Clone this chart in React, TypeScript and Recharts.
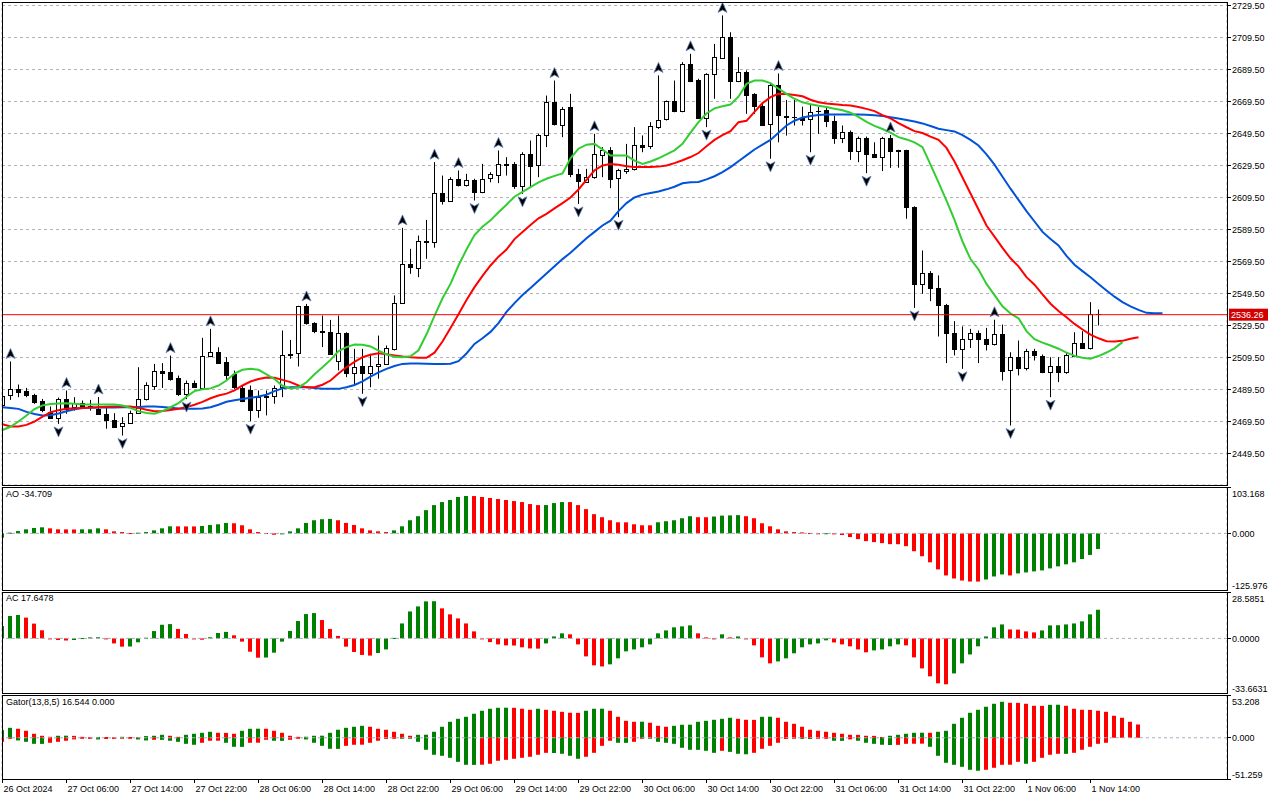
import React from 'react';
import {Bar, CartesianGrid, Cell, ComposedChart, Line, ReferenceLine, Scatter, XAxis, YAxis} from 'recharts';

// ETHUSD H1, one entry per bar: 26 Oct 22:00 .. 1 Nov 15:00
const opens = [
  2480.0, 2486.1, 2489.9, 2488.4, 2486.1, 2482.2, 2475.7, 2471.8, 2483.7, 2478.4,
  2481.1, 2479.5, 2477.6, 2474.3, 2470.5, 2467.0, 2468.7, 2474.9, 2483.7, 2492.0,
  2501.3, 2500.7, 2496.8, 2486.8, 2493.7, 2490.5, 2510.7, 2513.2, 2506.9, 2498.9,
  2490.5, 2488.9, 2476.3, 2484.7, 2485.7, 2490.9, 2511.1, 2511.8, 2541.4, 2530.9,
  2525.9, 2525.7, 2507.6, 2524.9, 2499.7, 2503.9, 2499.7, 2504.1, 2505.6, 2514.9,
  2543.6, 2568.0, 2565.9, 2582.6, 2581.6, 2612.4, 2607.6, 2621.2, 2617.4, 2620.5,
  2612.8, 2621.2, 2623.7, 2630.5, 2630.5, 2617.0, 2636.8, 2629.5, 2648.3, 2669.0,
  2655.1, 2665.9, 2623.9, 2619.7, 2622.2, 2636.4, 2639.3, 2621.2, 2626.0, 2627.4,
  2642.6, 2641.4, 2653.9, 2658.2, 2669.7, 2663.5, 2693.0, 2683.2, 2659.3, 2686.8,
  2697.2, 2710.1, 2682.6, 2688.2, 2674.3, 2667.0, 2655.1, 2679.5, 2660.3, 2659.8,
  2659.0, 2658.7, 2663.5, 2664.3, 2657.6, 2646.8, 2650.7, 2638.9, 2646.8, 2636.8,
  2634.7, 2646.6, 2638.5, 2638.9, 2603.4, 2555.5, 2562.4, 2553.0, 2542.6, 2524.9,
  2514.9, 2521.2, 2524.9, 2521.2, 2518.0, 2524.3, 2501.4, 2509.7, 2503.0, 2513.5,
  2510.3, 2500.3, 2503.9, 2500.3, 2510.8, 2518.7, 2515.5, 2536.5,
];
const highs = [
  2487.0, 2507.0, 2492.6, 2490.5, 2486.8, 2483.6, 2478.9, 2484.5, 2488.9, 2484.7,
  2482.6, 2483.0, 2484.8, 2478.4, 2474.7, 2472.2, 2476.3, 2503.4, 2494.0, 2505.5,
  2506.0, 2510.7, 2498.2, 2495.1, 2495.1, 2521.8, 2527.4, 2515.9, 2509.7, 2501.3,
  2492.0, 2492.0, 2488.9, 2488.9, 2492.0, 2526.4, 2520.5, 2541.8, 2543.0, 2531.6,
  2535.7, 2533.0, 2535.7, 2525.3, 2514.9, 2514.9, 2511.8, 2523.2, 2517.0, 2548.3,
  2590.5, 2577.4, 2585.7, 2595.5, 2631.6, 2623.2, 2622.2, 2626.4, 2624.3, 2621.2,
  2630.5, 2625.3, 2638.9, 2634.7, 2631.6, 2637.8, 2645.1, 2649.3, 2673.2, 2682.6,
  2666.0, 2674.3, 2627.4, 2627.4, 2649.3, 2641.0, 2641.0, 2627.4, 2643.0, 2653.5,
  2648.3, 2656.6, 2685.8, 2670.1, 2682.6, 2694.1, 2699.3, 2683.7, 2687.2, 2705.5,
  2723.3, 2712.8, 2697.2, 2688.9, 2674.7, 2668.0, 2680.5, 2687.0, 2670.5, 2670.5,
  2666.3, 2668.0, 2666.0, 2666.0, 2660.7, 2654.5, 2651.4, 2647.6, 2647.6, 2644.0,
  2647.4, 2648.6, 2639.3, 2639.3, 2604.0, 2576.4, 2563.5, 2560.8, 2543.0, 2532.2,
  2528.9, 2527.4, 2526.4, 2528.0, 2533.1, 2530.1, 2512.8, 2520.1, 2514.9, 2514.9,
  2511.4, 2509.7, 2509.7, 2512.8, 2525.3, 2525.9, 2544.1, 2539.5,
];
const lows = [
  2479.0, 2483.0, 2484.7, 2484.7, 2480.5, 2475.3, 2471.1, 2468.0, 2474.3, 2476.3,
  2477.4, 2476.3, 2474.2, 2465.0, 2465.5, 2460.7, 2468.0, 2474.3, 2482.6, 2489.3,
  2490.5, 2495.0, 2485.5, 2483.5, 2490.5, 2489.9, 2509.7, 2505.5, 2495.1, 2489.9,
  2481.6, 2469.7, 2471.8, 2473.3, 2480.6, 2484.7, 2508.7, 2503.9, 2530.0, 2524.7,
  2516.0, 2511.8, 2501.4, 2497.2, 2492.0, 2486.8, 2490.9, 2496.2, 2505.1, 2513.9,
  2543.0, 2561.8, 2559.7, 2571.2, 2578.1, 2605.1, 2607.2, 2616.4, 2616.4, 2607.6,
  2612.2, 2619.0, 2618.5, 2623.2, 2614.9, 2611.8, 2616.0, 2622.2, 2641.0, 2654.5,
  2647.2, 2622.2, 2605.5, 2619.1, 2621.2, 2622.2, 2615.3, 2597.2, 2624.3, 2626.4,
  2637.8, 2639.9, 2652.4, 2657.6, 2662.8, 2662.8, 2681.6, 2658.7, 2653.5, 2671.2,
  2697.0, 2671.2, 2681.6, 2661.8, 2661.8, 2655.0, 2633.7, 2644.0, 2648.2, 2654.5,
  2654.5, 2637.8, 2649.3, 2653.5, 2643.0, 2643.5, 2633.0, 2631.6, 2624.7, 2634.7,
  2626.0, 2628.0, 2628.1, 2596.2, 2540.5, 2549.3, 2544.7, 2522.6, 2506.0, 2510.8,
  2502.4, 2515.5, 2506.0, 2513.9, 2517.0, 2495.1, 2467.0, 2498.3, 2501.4, 2507.6,
  2499.7, 2484.7, 2494.1, 2499.3, 2509.7, 2514.9, 2514.5, 2529.5,
];
const closes = [
  2485.7, 2489.9, 2487.8, 2486.1, 2481.6, 2476.3, 2471.8, 2483.7, 2477.4, 2481.1,
  2478.9, 2479.0, 2474.3, 2470.5, 2466.4, 2468.7, 2474.9, 2483.7, 2492.6, 2501.3,
  2500.3, 2496.6, 2486.8, 2493.7, 2491.0, 2510.7, 2513.2, 2506.1, 2498.9, 2490.5,
  2482.6, 2476.3, 2484.7, 2485.3, 2490.7, 2511.1, 2511.8, 2541.4, 2530.5, 2525.9,
  2525.0, 2512.2, 2524.9, 2499.7, 2503.4, 2499.7, 2504.3, 2505.6, 2515.5, 2543.6,
  2568.0, 2566.0, 2582.6, 2582.0, 2612.4, 2607.6, 2621.2, 2617.4, 2620.5, 2612.8,
  2621.2, 2623.9, 2630.5, 2630.0, 2617.0, 2636.8, 2629.5, 2648.3, 2669.0, 2655.1,
  2664.9, 2623.9, 2619.7, 2622.6, 2636.4, 2639.3, 2621.2, 2626.4, 2627.4, 2642.6,
  2641.4, 2653.9, 2658.2, 2669.7, 2663.5, 2693.0, 2682.6, 2659.3, 2686.8, 2697.2,
  2710.1, 2682.6, 2688.2, 2673.9, 2667.0, 2655.1, 2679.5, 2660.7, 2659.8, 2659.5,
  2658.0, 2662.8, 2663.2, 2657.6, 2646.8, 2650.7, 2638.9, 2646.8, 2636.8, 2634.9,
  2646.6, 2638.5, 2638.9, 2603.0, 2555.5, 2562.4, 2553.0, 2542.6, 2524.9, 2514.9,
  2521.2, 2524.9, 2521.2, 2518.0, 2524.3, 2501.4, 2509.7, 2503.0, 2513.5, 2510.8,
  2500.3, 2503.9, 2500.3, 2510.8, 2518.7, 2515.5, 2536.8, 2536.26,
];

// Alligator lines (already shifted forward, so they run past the last bar)
const jaw = [
  2478.4, 2478.0, 2477.4, 2475.5, 2474.2, 2473.3, 2473.4, 2474.5, 2475.9, 2477.1,
  2477.9, 2478.1, 2478.2, 2478.3, 2478.3, 2478.4, 2478.4, 2478.6, 2478.8, 2478.9,
  2478.6, 2478.1, 2477.7, 2477.4, 2477.4, 2477.6, 2478.4, 2480.0, 2481.8, 2482.8,
  2483.6, 2484.3, 2485.1, 2486.2, 2488.5, 2490.2, 2490.9, 2490.9, 2490.9, 2490.5,
  2489.9, 2489.9, 2489.9, 2490.9, 2492.3, 2494.6, 2497.6, 2500.2, 2502.4, 2504.2,
  2505.5, 2505.8, 2505.8, 2505.6, 2505.5, 2505.5, 2505.6, 2507.2, 2512.0, 2518.0,
  2521.5, 2525.5, 2531.0, 2538.0, 2543.5, 2548.5, 2553.0, 2557.5, 2562.0, 2566.5,
  2571.0, 2575.0, 2579.5, 2584.0, 2588.0, 2592.0, 2595.0, 2601.0, 2606.0, 2609.5,
  2611.3, 2612.3, 2613.3, 2614.6, 2616.2, 2618.4, 2619.1, 2619.2, 2620.8, 2622.8,
  2625.4, 2628.5, 2632.2, 2635.8, 2639.5, 2642.5, 2645.5, 2650.0, 2654.5, 2657.5,
  2659.5, 2660.5, 2661.1, 2661.4, 2661.4, 2661.4, 2661.4, 2661.4, 2661.2, 2660.9,
  2660.4, 2659.7, 2658.9, 2658.0, 2657.0, 2655.8, 2654.2, 2652.5, 2651.6, 2650.8,
  2648.5, 2645.5, 2642.0, 2636.5, 2630.0, 2622.5, 2615.0, 2608.0, 2601.0, 2594.5,
  2588.0, 2583.5, 2579.5, 2573.0, 2567.5, 2563.5, 2559.7, 2555.5, 2551.4, 2547.5,
  2544.1, 2541.5, 2539.3, 2537.4, 2537.2, 2537.2,
];
const teeth = [
  2467.8, 2466.4, 2466.4, 2467.4, 2469.5, 2472.5, 2475.3, 2476.6, 2477.4, 2477.8,
  2478.0, 2478.2, 2478.4, 2478.7, 2478.9, 2478.9, 2478.9, 2478.0, 2476.8, 2475.9,
  2476.1, 2476.7, 2477.4, 2478.5, 2480.0, 2481.8, 2484.0, 2485.7, 2486.9, 2489.0,
  2492.0, 2494.5, 2496.1, 2497.0, 2496.8, 2495.5, 2494.1, 2492.0, 2490.9, 2490.9,
  2492.5, 2495.1, 2499.5, 2503.4, 2506.8, 2509.7, 2511.2, 2512.2, 2511.6, 2510.8,
  2510.1, 2509.6, 2509.4, 2509.3, 2512.5, 2519.5, 2528.0, 2536.5, 2545.5, 2553.5,
  2560.5, 2567.0, 2572.5, 2577.0, 2583.5, 2588.0, 2592.3, 2596.5, 2599.3, 2602.7,
  2606.0, 2609.5, 2614.5, 2620.5, 2626.5, 2629.5, 2630.5, 2630.0, 2629.0, 2628.5,
  2628.5, 2628.5, 2628.8, 2629.5, 2631.0, 2632.8, 2634.8, 2637.3, 2641.5, 2645.5,
  2648.5, 2651.0, 2656.6, 2657.4, 2663.0, 2668.5, 2672.2, 2674.3, 2674.2, 2673.6,
  2672.8, 2670.6, 2669.0, 2668.3, 2667.8, 2667.3, 2667.0, 2666.0, 2664.9, 2663.5,
  2661.0, 2659.0, 2656.0, 2653.4, 2651.0, 2649.8, 2647.5, 2645.5, 2640.5, 2632.0,
  2622.0, 2612.0, 2602.0, 2592.0, 2585.0, 2578.0, 2571.5, 2566.5, 2559.7, 2555.0,
  2549.0, 2543.1, 2538.5, 2534.7, 2530.5, 2527.0, 2523.8, 2521.5, 2519.7, 2519.5,
  2519.9, 2521.2, 2522.2,
];
const lips = [
  2464.2, 2466.2, 2469.5, 2473.2, 2477.3, 2479.6, 2480.5, 2480.8, 2480.9, 2480.6,
  2480.1, 2480.1, 2480.1, 2480.1, 2480.1, 2479.5, 2478.0, 2476.0, 2474.8, 2474.3,
  2476.0, 2478.4, 2481.0, 2485.0, 2488.5, 2489.7, 2490.2, 2492.0, 2495.1, 2499.5,
  2501.8, 2502.4, 2501.8, 2499.0, 2496.0, 2491.8, 2490.2, 2490.8, 2494.0, 2499.0,
  2503.4, 2508.0, 2513.5, 2516.0, 2517.6, 2517.5, 2516.4, 2513.8, 2511.5, 2509.9,
  2509.7, 2510.3, 2514.0, 2524.0, 2535.5, 2546.5, 2555.5, 2567.0, 2577.0, 2586.0,
  2591.2, 2595.2, 2600.3, 2605.0, 2610.0, 2613.0, 2616.0, 2619.0, 2621.2, 2623.0,
  2624.5, 2634.0, 2640.0, 2642.5, 2643.0, 2639.5, 2635.7, 2635.7, 2635.7, 2632.5,
  2630.5, 2632.0, 2634.0, 2636.5, 2639.0, 2643.0, 2650.0, 2656.6, 2662.0, 2665.2,
  2666.5, 2667.6, 2672.5, 2680.5, 2682.6, 2682.6, 2681.0, 2677.5, 2674.3, 2671.2,
  2669.0, 2667.8, 2666.8, 2666.0, 2665.0, 2664.0, 2662.5, 2659.9, 2656.8, 2654.3,
  2652.3, 2650.0, 2647.2, 2645.8, 2644.0, 2641.0, 2630.0, 2619.0, 2607.6, 2595.5,
  2582.0, 2571.0, 2564.5, 2555.5, 2548.5, 2541.5, 2537.0, 2534.0, 2526.0, 2521.0,
  2518.8, 2517.0, 2515.0, 2512.5, 2510.5, 2509.3, 2508.7, 2510.4, 2512.6, 2515.2,
  2519.1,
];

// bars that carry a fractal arrow
const upFractals = [1, 8, 12, 21, 26, 38, 50, 54, 57, 62, 69, 74, 82, 86, 90, 97, 111, 124];
const downFractals = [7, 15, 23, 31, 45, 59, 65, 72, 77, 88, 96, 101, 108, 114, 120, 126, 131];

const ao = [
  -9.7, 1.5, 5.2, 9.0, 12.0, 13.5, 11.2, 9.0, 8.9, 8.7,
  9.0, 9.1, 11.2, 9.0, 4.5, 3.0, 0.7, 1.5, 3.0, 6.7,
  11.2, 15.7, 15.6, 15.5, 15.4, 16.5, 18.7, 20.2, 23.2, 22.5,
  18.0, 9.0, 3.0, 0.7, -3.0, -0.7, 4.5, 11.2, 23.2, 29.2,
  31.5, 32.2, 29.2, 23.2, 18.7, 11.2, 6.7, 4.5, 3.0, 6.7,
  15.7, 29.2, 38.2, 51.7, 62.9, 69.7, 74.2, 80.9, 83.1, 83.0,
  80.9, 78.7, 76.4, 74.2, 71.9, 69.7, 65.2, 62.9, 63.0, 67.4,
  69.7, 69.6, 62.9, 53.9, 42.7, 36.0, 29.2, 24.7, 24.6, 20.2,
  18.0, 17.9, 24.7, 27.0, 29.2, 33.7, 38.2, 36.0, 35.9, 37.5,
  39.5, 40.0, 40.6, 38.2, 33.7, 22.5, 15.7, 9.0, 4.5, 3.0,
  2.2, 0.7, 0.2, 0.3, -1.5, -3.7, -8.2, -12.7, -17.2, -19.5,
  -21.7, -24.0, -24.1, -28.5, -39.7, -50.9, -64.4, -80.1, -93.6, -100.4,
  -104.9, -107.1, -107.2, -102.6, -95.9, -91.4, -93.6, -89.1, -86.9, -84.6,
  -82.4, -77.9, -73.4, -68.9, -64.4, -57.0, -48.0, -34.709,
];
const ac = [
  7.6, 13.8, 14.4, 12.8, 9.1, 5.0, -0.2, -1.0, -1.3, -1.0,
  0.2, 0.6, 0.7, -0.6, -3.1, -5.1, -5.0, -2.4, 0.4, 4.5,
  8.4, 8.8, 5.8, 2.7, -0.3, -0.8, 0.7, 3.3, 4.0, 1.9,
  -2.0, -8.2, -11.9, -11.8, -8.8, -2.0, 4.6, 10.7, 15.0, 15.6,
  11.3, 5.8, 1.5, -5.1, -8.4, -10.2, -10.6, -9.0, -6.8, 0.3,
  9.2, 16.6, 19.7, 22.8, 22.9, 18.5, 14.8, 12.3, 9.2, 4.3,
  -0.4, -2.3, -3.7, -4.3, -4.4, -5.5, -6.2, -6.3, -3.1, 1.2,
  3.1, 2.5, -3.7, -11.1, -16.6, -17.3, -16.0, -12.3, -8.0, -6.8,
  -5.5, -3.7, 3.1, 4.9, 6.8, 7.4, 8.0, 3.1, 0.6, -0.4,
  2.5, 0.6, 1.2, -0.4, -4.3, -11.7, -15.4, -14.2, -12.3, -9.2,
  -5.5, -3.7, -3.1, -1.2, -2.5, -3.7, -4.9, -6.8, -8.6, -7.4,
  -6.8, -4.9, -3.7, -4.3, -11.7, -18.5, -23.4, -27.7, -28.3, -21.6,
  -15.4, -9.9, -4.9, 1.2, 6.8, 8.6, 5.5, 5.4, 4.3, 3.7,
  4.9, 8.0, 8.1, 8.6, 9.2, 10.5, 14.8, 17.6478,
];
const gatorUp = [
  9.5, 12.4, 11.2, 8.7, 5.0, 2.5, 1.2, 2.5, 2.6, 2.4,
  1.2, 0.6, 1.0, 0.9, 0.4, 1.2, 1.0, 0.5, 2.1, 2.5,
  3.7, 2.5, 1.2, 3.7, 5.0, 6.2, 7.5, 6.2, 6.1, 5.0,
  8.7, 11.2, 11.3, 11.2, 8.7, 6.2, 2.5, 1.2, 1.3, 2.5,
  2.6, 6.2, 10.0, 12.4, 13.7, 14.9, 13.7, 11.2, 10.0, 7.5,
  5.0, 2.5, 3.7, 3.8, 7.5, 13.7, 19.9, 23.6, 26.1, 29.9,
  33.6, 36.1, 37.3, 37.4, 37.3, 36.1, 34.8, 36.1, 34.8, 33.6,
  32.3, 31.1, 31.0, 33.6, 36.1, 36.2, 33.6, 26.1, 21.1, 19.9,
  20.0, 18.7, 14.9, 13.7, 14.9, 16.2, 16.3, 19.9, 21.1, 22.4,
  23.6, 24.9, 23.6, 22.4, 22.3, 26.1, 26.2, 24.9, 19.9, 17.4,
  13.7, 10.0, 8.7, 7.5, 6.2, 5.0, 3.7, 3.6, 2.5, 2.4,
  1.0, 2.5, 3.7, 5.0, 6.2, 6.3, 6.2, 7.5, 8.7, 17.4,
  24.9, 31.1, 34.8, 38.6, 42.3, 44.8, 43.5, 43.4, 42.3, 39.8,
  39.7, 41.0, 41.1, 39.8, 36.1, 34.8, 34.7, 33.6, 32.3, 27.4,
  24.9, 19.9, 16.544,
];
const gatorDown = [
  -5.0, -1.0, -3.3, -5.0, -7.5, -7.6, -6.2, -5.0, -3.7, -2.0,
  -1.2, -0.6, -2.1, -1.5, -1.0, -0.8, -0.5, -2.1, -3.3, -2.5,
  -2.6, -3.7, -5.0, -7.5, -8.7, -6.2, -3.7, -3.6, -6.2, -11.2,
  -11.3, -6.2, -6.1, -2.5, -3.7, -3.8, -2.5, -0.8, -2.1, -6.2,
  -10.0, -13.7, -13.8, -10.0, -8.7, -8.6, -6.2, -3.7, -1.5, -0.5,
  -0.8, -1.2, -5.0, -14.9, -21.1, -22.4, -24.9, -29.9, -33.6, -33.7,
  -33.5, -32.3, -28.6, -27.4, -26.1, -24.9, -23.6, -21.1, -18.7, -18.9,
  -19.9, -22.4, -26.1, -23.6, -18.7, -10.0, -3.7, -6.2, -6.3, -5.0,
  -0.8, -1.2, -5.0, -6.2, -7.5, -12.4, -14.9, -15.0, -16.2, -18.7,
  -16.2, -17.5, -19.9, -20.5, -18.7, -13.7, -10.0, -6.2, -1.5, -0.5,
  -1.0, -1.5, -1.2, -0.6, -3.7, -3.8, -2.0, -3.7, -6.2, -7.5,
  -8.7, -9.0, -8.8, -7.5, -7.4, -7.3, -11.2, -22.4, -31.1, -33.6,
  -36.1, -39.8, -41.0, -39.8, -37.3, -33.6, -33.5, -29.9, -32.3, -29.9,
  -24.9, -21.1, -19.9, -20.0, -18.7, -14.9, -11.2, -7.5, -6.2,
];

const priceTicks = [2449.5, 2469.5, 2489.5, 2509.5, 2529.5, 2549.5, 2569.5, 2589.5,
  2609.5, 2629.5, 2649.5, 2669.5, 2689.5, 2709.5, 2729.5];
const aoScale = [-125.976, 0, 103.168];
const acScale = [-33.6631, 0, 28.5851];
const gatorScale = [-51.259, 0, 53.208];
const timeLabels = ['26 Oct 2024', '27 Oct 06:00', '27 Oct 14:00', '27 Oct 22:00', '28 Oct 06:00',
  '28 Oct 14:00', '28 Oct 22:00', '29 Oct 06:00', '29 Oct 14:00', '29 Oct 22:00', '30 Oct 06:00',
  '30 Oct 14:00', '30 Oct 22:00', '31 Oct 06:00', '31 Oct 14:00', '31 Oct 22:00', '1 Nov 06:00',
  '1 Nov 14:00'];
const bid = closes[closes.length - 1];

const FONT = '"Liberation Sans", Arial, sans-serif';
const GREEN = '#008000';
const RED = '#ff0000';
const GRID = '#b4b2b8';
const PLOT_RIGHT = 1227;
const X_DOMAIN = [-0.0625, 153.0625]; // 8px per bar
const PRICE_DOMAIN = [2429.8125, 2731.6875];
const gridTicks = Array.from({length: 38}, (_, i) => (i + 1) * 4);
const labelTicks = timeLabels.map((_, i) => i * 8);

const priceRows = jaw.map((j, k) => {
  const has = k < opens.length;
  return {
    k,
    open: has ? opens[k] : null,
    close: has ? closes[k] : null,
    wick: has ? [lows[k], highs[k]] : null,
    body: has ? [Math.min(opens[k], closes[k]), Math.max(opens[k], closes[k])] : null,
    jaw: j,
    teeth: k < teeth.length ? teeth[k] : null,
    lips: k < lips.length ? lips[k] : null,
  };
});
const upPoints = upFractals.map(k => ({k, price: highs[k]}));
const downPoints = downFractals.map(k => ({k, price: lows[k]}));

const indRows = gatorUp.map((g, k) => ({
  k,
  ao: k < ao.length ? ao[k] : null,
  ac: k < ac.length ? ac[k] : null,
  up: g,
  down: k < gatorDown.length ? gatorDown[k] : null,
}));

// green when the bar grew against the previous one
const histColor = (arr: number[], i: number) => (i === 0 || arr[i] > arr[i - 1] ? GREEN : RED);
const gatorColor = (arr: number[], i: number, first: string) =>
  i === 0 ? first : Math.abs(arr[i]) > Math.abs(arr[i - 1]) ? GREEN : RED;

const Wick = (p: any) => {
  if (p.payload.open == null) return null;
  const cx = Math.floor(p.x + p.width / 2) + 0.5;
  const y1 = Math.min(p.y, p.y + p.height);
  const y2 = Math.max(p.y, p.y + p.height);
  return <line x1={cx} x2={cx} y1={y1} y2={y2} stroke="#000" strokeWidth={1}/>;
};

const Body = (p: any) => {
  if (p.payload.open == null) return null;
  const c = Math.floor(p.x + p.width / 2);
  const top = Math.round(Math.min(p.y, p.y + p.height)) + 0.5;
  const h = Math.round(Math.abs(p.height));
  if (h < 1) {
    return <line x1={c - 2} x2={c + 3} y1={top} y2={top} stroke="#000" strokeWidth={1}/>;
  }
  const bull = p.payload.close >= p.payload.open;
  return <rect x={c - 1.5} y={top} width={4} height={h} fill={bull ? '#fff' : '#000'} stroke="#000" strokeWidth={1}/>;
};

const makeHist = (key: string) => (p: any) => {
  if (p.payload[key] == null) return null;
  const c = Math.floor(p.x + p.width / 2);
  const y1 = Math.min(p.y, p.y + p.height);
  const h = Math.abs(p.height);
  return <rect x={c - 2} y={y1} width={4} height={Math.max(h, 1)} fill={p.fill}/>;
};

const UpFractal = (p: any) => {
  const x = Math.floor(p.cx) + 0.5;
  const b = p.cy - 3;
  return <path d={`M${x} ${b - 10} L${x + 4.5} ${b} L${x} ${b - 2.5} L${x - 4.5} ${b} Z`}
               fill="#000" stroke="#5f80b8" strokeWidth={0.8} strokeLinejoin="round"/>;
};

const DownFractal = (p: any) => {
  const x = Math.floor(p.cx) + 0.5;
  const t = p.cy + 3;
  return <path d={`M${x} ${t + 10} L${x + 4.5} ${t} L${x} ${t + 2.5} L${x - 4.5} ${t} Z`}
               fill="#000" stroke="#5f80b8" strokeWidth={0.8} strokeLinejoin="round"/>;
};

const PriceTick = (p: any) => {
  const y = Math.floor(p.y) + 0.5;
  return (
    <g>
      <line x1={PLOT_RIGHT} x2={PLOT_RIGHT + 4} y1={y} y2={y} stroke="#000"/>
      <text x={PLOT_RIGHT + 5} y={p.y + 3.5} fontSize={9} fontFamily={FONT} fill="#000">
        {p.payload.value.toFixed(2)}
      </text>
    </g>
  );
};

const makeScaleTick = (scale: number[], digits: number) => (p: any) => {
  const v = p.payload.value;
  const shift = v === scale[2] ? 6 : v === scale[0] ? -5 : 0;
  const y = Math.floor(p.y) + 0.5;
  return (
    <g>
      <line x1={PLOT_RIGHT} x2={PLOT_RIGHT + 4} y1={y} y2={y} stroke="#000"/>
      <text x={PLOT_RIGHT + 5} y={p.y + shift + 3.5} fontSize={9} fontFamily={FONT} fill="#000">
        {v.toFixed(digits)}
      </text>
    </g>
  );
};

const GATOR_PLOT_H = 84;
const TimeTick = (p: any) => {
  const x = Math.floor(p.x) + 0.5;
  const i = labelTicks.indexOf(p.payload.value);
  return (
    <g>
      <line x1={x} x2={x} y1={GATOR_PLOT_H} y2={GATOR_PLOT_H + 4} stroke="#000"/>
      <text x={x + 1} y={GATOR_PLOT_H + 13} fontSize={9} fontFamily={FONT} fill="#000">{timeLabels[i]}</text>
    </g>
  );
};

const BidLabel = (p: any) => {
  const vb = p.viewBox;
  const x = vb.x + vb.width + 2;
  return (
    <g>
      <rect x={x} y={vb.y - 6} width={39} height={12} fill="#d40000"/>
      <text x={x + 2} y={vb.y + 3.5} fontSize={9} fontFamily={FONT} fill="#fff">{bid.toFixed(2)}</text>
    </g>
  );
};

const margin = {top: 0, right: 0, bottom: 0, left: 2};

function IndicatorPanel({top, height, dataKey, scale, digits, colorOf}: any) {
  return (
    <div style={{position: 'absolute', left: 0, top}}>
      <ComposedChart width={1280} height={height} data={indRows} margin={margin}>
        <XAxis xAxisId="grid" dataKey="k" type="number" domain={X_DOMAIN} ticks={gridTicks} allowDataOverflow
               height={0} tick={false} tickLine={false} axisLine={false}/>
        <XAxis xAxisId="bars" dataKey="k" type="number" domain={X_DOMAIN} allowDataOverflow hide/>
        <YAxis yAxisId="v" orientation="right" width={53} domain={[scale[0], scale[2]]} ticks={scale}
               allowDataOverflow interval={0} axisLine={false} tickLine={false} tick={makeScaleTick(scale, digits)}/>
        <CartesianGrid xAxisId="grid" yAxisId="v" horizontal={false} stroke={GRID} strokeDasharray="3 3"/>
        <ReferenceLine xAxisId="grid" yAxisId="v" y={0} stroke="#a4acbc" strokeDasharray="3 3"/>
        <Bar xAxisId="bars" yAxisId="v" dataKey={dataKey} barSize={4} shape={makeHist(dataKey)} isAnimationActive={false}>
          {indRows.map((_, i) => <Cell key={`c-${i}`} fill={colorOf(i)}/>)}
        </Bar>
      </ComposedChart>
    </div>
  );
}

const Frame = ({top, bottom}: {top: number, bottom: number}) => (
  <div style={{
    position: 'absolute', left: 2, top, width: 1226, height: bottom - top + 1,
    border: '1px solid #000', boxSizing: 'border-box', pointerEvents: 'none',
  }}/>
);

const titleStyle: any = {
  position: 'absolute', left: 6, fontSize: 9, lineHeight: '11px', fontFamily: FONT, color: '#000',
  whiteSpace: 'nowrap',
};

export default function App() {
  const lastUp = gatorUp[gatorUp.length - 1];
  const lastDown = gatorDown[gatorUp.length - 1] ?? 0;
  return (
    <div style={{position: 'absolute', left: 0, top: 0, width: 1280, height: 800, background: '#fff', overflow: 'hidden'}}>
      <div style={{position: 'absolute', left: 0, top: 2}}>
        <ComposedChart width={1280} height={483} data={priceRows} margin={margin}>
          <XAxis xAxisId="grid" dataKey="k" type="number" domain={X_DOMAIN} ticks={gridTicks} allowDataOverflow
                 height={0} tick={false} tickLine={false} axisLine={false}/>
          <XAxis xAxisId="wick" dataKey="k" type="number" domain={X_DOMAIN} allowDataOverflow hide/>
          <XAxis xAxisId="body" dataKey="k" type="number" domain={X_DOMAIN} allowDataOverflow hide/>
          <XAxis xAxisId="frac" dataKey="k" type="number" domain={X_DOMAIN} allowDataOverflow hide/>
          <YAxis yAxisId="p" orientation="right" width={53} domain={PRICE_DOMAIN} ticks={priceTicks}
                 allowDataOverflow interval={0} axisLine={false} tickLine={false} tick={PriceTick}/>
          <CartesianGrid xAxisId="grid" yAxisId="p" stroke={GRID} strokeDasharray="3 3"/>
          <Bar xAxisId="wick" yAxisId="p" dataKey="wick" barSize={1} shape={Wick} isAnimationActive={false}/>
          <Bar xAxisId="body" yAxisId="p" dataKey="body" barSize={5} shape={Body} isAnimationActive={false}/>
          <Line xAxisId="wick" yAxisId="p" dataKey="jaw" stroke="#0052d9" strokeWidth={2} dot={false}
                activeDot={false} isAnimationActive={false}/>
          <Line xAxisId="wick" yAxisId="p" dataKey="teeth" stroke={RED} strokeWidth={2} dot={false}
                activeDot={false} isAnimationActive={false}/>
          <Line xAxisId="wick" yAxisId="p" dataKey="lips" stroke="#32cd32" strokeWidth={2} dot={false}
                activeDot={false} isAnimationActive={false}/>
          <Scatter xAxisId="frac" yAxisId="p" data={upPoints} dataKey="price" shape={UpFractal} isAnimationActive={false}/>
          <Scatter xAxisId="frac" yAxisId="p" data={downPoints} dataKey="price" shape={DownFractal} isAnimationActive={false}/>
          <ReferenceLine xAxisId="wick" yAxisId="p" y={bid} stroke={RED} strokeWidth={1} label={BidLabel}/>
        </ComposedChart>
      </div>

      <IndicatorPanel top={487} height={103} dataKey="ao" scale={aoScale} digits={3}
                      colorOf={(i: number) => histColor(ao, i)}/>
      <IndicatorPanel top={592} height={101} dataKey="ac" scale={acScale} digits={4}
                      colorOf={(i: number) => histColor(ac, i)}/>

      <div style={{position: 'absolute', left: 0, top: 695}}>
        <ComposedChart width={1280} height={GATOR_PLOT_H + 20} data={indRows} margin={margin}>
          <XAxis xAxisId="grid" dataKey="k" type="number" domain={X_DOMAIN} ticks={gridTicks} allowDataOverflow
                 height={0} tick={false} tickLine={false} axisLine={false}/>
          <XAxis xAxisId="upper" dataKey="k" type="number" domain={X_DOMAIN} allowDataOverflow hide/>
          <XAxis xAxisId="lower" dataKey="k" type="number" domain={X_DOMAIN} allowDataOverflow hide/>
          <XAxis xAxisId="time" dataKey="k" type="number" domain={X_DOMAIN} ticks={labelTicks} allowDataOverflow
                 interval={0} height={20} tickLine={false} axisLine={false} tick={TimeTick}/>
          <YAxis yAxisId="v" orientation="right" width={53} domain={[gatorScale[0], gatorScale[2]]} ticks={gatorScale}
                 allowDataOverflow interval={0} axisLine={false} tickLine={false} tick={makeScaleTick(gatorScale, 3)}/>
          <CartesianGrid xAxisId="grid" yAxisId="v" horizontal={false} stroke={GRID} strokeDasharray="3 3"/>
          <ReferenceLine xAxisId="grid" yAxisId="v" y={0} stroke="#a4acbc" strokeDasharray="3 3"/>
          <Bar xAxisId="upper" yAxisId="v" dataKey="up" barSize={4} shape={makeHist('up')} isAnimationActive={false}>
            {indRows.map((_, i) => <Cell key={`u-${i}`} fill={gatorColor(gatorUp, i, GREEN)}/>)}
          </Bar>
          <Bar xAxisId="lower" yAxisId="v" dataKey="down" barSize={4} shape={makeHist('down')} isAnimationActive={false}>
            {indRows.map((_, i) => <Cell key={`d-${i}`} fill={i < gatorDown.length ? gatorColor(gatorDown, i, RED) : RED}/>)}
          </Bar>
        </ComposedChart>
      </div>

      <Frame top={2} bottom={485}/>
      <Frame top={487} bottom={590}/>
      <Frame top={592} bottom={693}/>
      <Frame top={695} bottom={779}/>

      <div style={{...titleStyle, top: 489}}>{`AO ${ao[ao.length - 1].toFixed(3)}`}</div>
      <div style={{...titleStyle, top: 593}}>{`AC ${ac[ac.length - 1].toFixed(4)}`}</div>
      <div style={{...titleStyle, top: 697}}>{`Gator(13,8,5) ${lastUp.toFixed(3)} ${lastDown.toFixed(3)}`}</div>
    </div>
  );
}
